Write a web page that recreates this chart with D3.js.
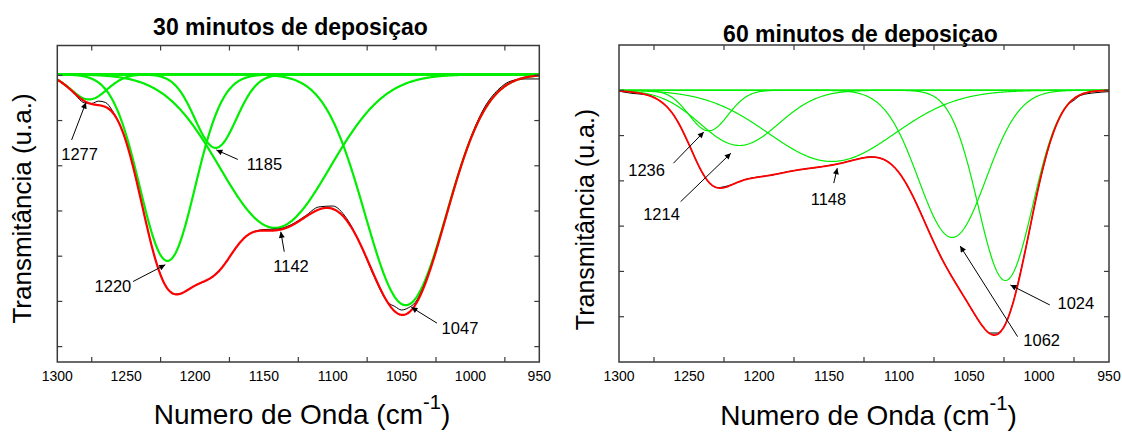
<!DOCTYPE html>
<html>
<head>
<meta charset="utf-8">
<script src="https://cdn.jsdelivr.net/npm/d3@7"></script>
<style>
  body { margin: 0; background: #fff; }
  svg { display: block; }
  text { font-family: "Liberation Sans", Arial, sans-serif; fill: #000; }
</style>
</head>
<body>
<svg id="chart" width="1122" height="432"></svg>
<script>
// ---- shared axis values ----
const xTickLabels = [1300, 1250, 1200, 1150, 1100, 1050, 1000, 950];
const xMinorTicks = [1275, 1225, 1175, 1125, 1075, 1025, 975];

// ---- 30 minutos: fitted Gaussian bands ----
const peaks30  = [1277, 1220, 1185, 1142, 1047];
const depth30  = [0.0553, 0.4123, 0.1624, 0.3393, 0.5103];
const fwhm30   = [30.6, 47.1, 35.3, 94.2, 69.5];
const baseline30 = 0.702;
const yTicks30 = [0.1, 0.2, 0.3, 0.4, 0.5, 0.6, 0.7];
// measured spectrum (wavenumber, transmittance)
const measured30 = [
  [1300,0.690],[1290,0.667],[1280,0.639],[1275,0.638],[1270,0.643],[1265,0.640],
  [1260,0.622],[1250,0.553],[1240,0.434],[1235,0.367],[1230,0.306],[1225,0.2585],
  [1220,0.228],[1215,0.216],[1210,0.218],[1200,0.235],[1190,0.249],[1180,0.277],
  [1170,0.320],[1160,0.350],[1150,0.359],[1140,0.360],[1130,0.370],[1120,0.389],
  [1110,0.409],[1100,0.411],[1090,0.384],[1080,0.327],[1070,0.255],[1060,0.198],
  [1055,0.189],[1050,0.181],[1045,0.186],[1040,0.198],[1030,0.266],[1020,0.365],
  [1010,0.470],[1000,0.560],[990,0.628],[980,0.668],[970,0.688],[960,0.692],[950,0.692]
];
// annotation arrows: peak index, arrow head, arrow tail, label centre (data units)
const notes30 = [
  { peak: 0, head: [1279.2, 0.640], tail: [1289.6, 0.557], text: [1283.8, 0.526] },
  { peak: 2, head: [1184.5, 0.535], tail: [1168.9, 0.514], text: [1149.6, 0.503] },
  { peak: 1, head: [1221.6, 0.281], tail: [1245.0, 0.244], text: [1259.6, 0.233] },
  { peak: 3, head: [1137.7, 0.354], tail: [1135.2, 0.310], text: [1130.3, 0.278] },
  { peak: 4, head: [1042.9, 0.187], tail: [1024.3, 0.152], text: [1007.6, 0.141] }
];

// ---- 60 minutos: fitted Gaussian bands ----
const peaks60  = [1236, 1214, 1148, 1062, 1024];
const depth60  = [0.0894, 0.1219, 0.1572, 0.3250, 0.4200];
const fwhm60   = [33.0, 65.9, 106.0, 56.5, 45.9];
const baseline60 = 0.600;
const yTicks60 = [0.1, 0.2, 0.3, 0.4, 0.5, 0.6];
const measured60 = [
  [1300,0.598],[1290,0.593],[1280,0.590],[1270,0.575],[1260,0.541],[1250,0.480],
  [1240,0.415],[1235,0.394],[1230,0.385],[1220,0.391],[1210,0.403],[1200,0.409],
  [1190,0.413],[1180,0.420],[1170,0.425],[1160,0.429],[1150,0.434],[1140,0.440],
  [1130,0.448],[1120,0.453],[1110,0.446],[1100,0.418],[1090,0.366],[1080,0.298],
  [1070,0.232],[1060,0.177],[1055,0.151],[1050,0.126],[1045,0.100],[1040,0.078],
  [1035,0.064],[1030,0.064],[1025,0.078],[1020,0.116],[1010,0.243],[1000,0.391],
  [990,0.504],[980,0.566],[975,0.578],[970,0.589],[960,0.5945],[950,0.597]
];
const notes60 = [
  { peak: 0, head: [1239.4, 0.508], tail: [1261.1, 0.439], text: [1280.3, 0.424] },
  { peak: 1, head: [1220.1, 0.461], tail: [1256.0, 0.354], text: [1269.6, 0.327] },
  { peak: 2, head: [1144.1, 0.428], tail: [1146.6, 0.395], text: [1150.4, 0.359] },
  { peak: 3, head: [1056.3, 0.256], tail: [1015.3, 0.056], text: [ 998.1, 0.049] },
  { peak: 4, head: [1020.4, 0.170], tail: [ 992.3, 0.126], text: [ 973.7, 0.130] }
];

const svg = d3.select("#chart");
const defs = svg.append("defs");
defs.append("marker")
  .attr("id", "arrow")
  .attr("viewBox", "0 0 10 10")
  .attr("refX", 10).attr("refY", 5)
  .attr("markerWidth", 8).attr("markerHeight", 6)
  .attr("markerUnits", "userSpaceOnUse")
  .attr("orient", "auto")
  .append("path").attr("d", "M0,0 L10,5 L0,10 Z").attr("fill", "#000");

function gaussianBand(center, depth, fwhm) {
  const s = fwhm / 2.3548;
  return w => depth * Math.exp(-((w - center) ** 2) / (2 * s * s));
}

function drawPanel(cfg) {
  const x = d3.scaleLinear().domain([1300, 950]).range([cfg.left, cfg.left + cfg.width]);
  const y = d3.scaleLinear().domain(cfg.yDomain).range([cfg.top + cfg.height, cfg.top]);
  const g = svg.append("g");

  defs.append("clipPath").attr("id", cfg.id + "-clip")
    .append("rect").attr("x", cfg.left).attr("y", cfg.top)
    .attr("width", cfg.width).attr("height", cfg.height);
  const plot = g.append("g").attr("clip-path", `url(#${cfg.id}-clip)`);

  const grid = d3.range(950, 1300.001, 0.5);
  const bands = cfg.peaks.map((c, i) => gaussianBand(c, cfg.depths[i], cfg.fwhms[i]));
  const line = d3.line().x(d => x(d[0])).y(d => y(d[1]));

  // individual bands
  bands.forEach(f => {
    plot.append("path")
      .attr("d", line(grid.map(w => [w, cfg.baseline - f(w)])))
      .attr("fill", "none").attr("stroke", "#00ee00")
      .attr("stroke-width", cfg.greenWidth);
  });
  // baseline of the fit
  plot.append("path")
    .attr("d", line([[1300, cfg.baseline], [950, cfg.baseline]]))
    .attr("fill", "none").attr("stroke", "#00ee00")
    .attr("stroke-width", cfg.greenWidth + 0.4);

  // measured spectrum
  plot.append("path")
    .attr("d", d3.line().curve(d3.curveMonotoneX).x(d => x(d[0])).y(d => y(d[1]))(cfg.measured))
    .attr("fill", "none").attr("stroke", "#000").attr("stroke-width", 1);

  // cumulative fit
  plot.append("path")
    .attr("d", line(grid.map(w => [w, cfg.baseline - d3.sum(bands, f => f(w))])))
    .attr("fill", "none").attr("stroke", "#ff0000")
    .attr("stroke-width", cfg.redWidth);

  // frame
  g.append("rect")
    .attr("x", cfg.left).attr("y", cfg.top)
    .attr("width", cfg.width).attr("height", cfg.height)
    .attr("fill", "none").attr("stroke", "#3a3a3a").attr("stroke-width", 1.5);

  // inward ticks
  const tl = 5;
  xMinorTicks.forEach(t => {
    g.append("line").attr("x1", x(t)).attr("x2", x(t))
      .attr("y1", cfg.top + cfg.height).attr("y2", cfg.top + cfg.height - tl)
      .attr("stroke", "#3a3a3a").attr("stroke-width", 1.2);
    g.append("line").attr("x1", x(t)).attr("x2", x(t))
      .attr("y1", cfg.top).attr("y2", cfg.top + tl)
      .attr("stroke", "#3a3a3a").attr("stroke-width", 1.2);
  });
  cfg.yTicks.forEach(t => {
    g.append("line").attr("x1", cfg.left).attr("x2", cfg.left + tl)
      .attr("y1", y(t)).attr("y2", y(t))
      .attr("stroke", "#3a3a3a").attr("stroke-width", 1.2);
    g.append("line").attr("x1", cfg.left + cfg.width).attr("x2", cfg.left + cfg.width - tl)
      .attr("y1", y(t)).attr("y2", y(t))
      .attr("stroke", "#3a3a3a").attr("stroke-width", 1.2);
  });

  // tick labels
  g.selectAll("text.tick").data(xTickLabels).enter().append("text")
    .attr("class", "tick")
    .attr("x", d => x(d)).attr("y", cfg.top + cfg.height + 18.5)
    .attr("text-anchor", "middle").attr("font-size", 14)
    .text(d => d);

  // titles
  g.append("text").attr("x", cfg.titleX).attr("y", cfg.titleY)
    .attr("text-anchor", "middle").attr("font-size", cfg.titleSize).attr("font-weight", "bold")
    .text(cfg.title);

  const xt = g.append("text").attr("x", cfg.xTitleX).attr("y", cfg.xTitleY)
    .attr("text-anchor", "middle").attr("font-size", cfg.xTitleSize);
  xt.append("tspan").text("Numero de Onda (cm");
  xt.append("tspan").attr("dy", -cfg.xTitleSize * 0.55).attr("font-size", cfg.xTitleSize * 0.72).text("-1");
  xt.append("tspan").attr("dy", cfg.xTitleSize * 0.55).text(")");

  g.append("text")
    .attr("transform", `translate(${cfg.yTitleX},${cfg.yTitleY}) rotate(-90)`)
    .attr("text-anchor", "middle").attr("font-size", cfg.yTitleSize)
    .text("Transmitância (u.a.)");

  // annotations
  cfg.notes.forEach(n => {
    g.append("line")
      .attr("x1", x(n.tail[0])).attr("y1", y(n.tail[1]))
      .attr("x2", x(n.head[0])).attr("y2", y(n.head[1]))
      .attr("stroke", "#000").attr("stroke-width", 1)
      .attr("marker-end", "url(#arrow)");
    g.append("text")
      .attr("x", x(n.text[0])).attr("y", y(n.text[1]) + 6)
      .attr("text-anchor", "middle").attr("font-size", 16.5)
      .text(String(cfg.peaks[n.peak]));
  });
}

drawPanel({
  id: "p30", left: 57.3, top: 45.5, width: 482, height: 316.5,
  yDomain: [0.066, 0.766], yTicks: yTicks30,
  peaks: peaks30, depths: depth30, fwhms: fwhm30, baseline: baseline30,
  measured: measured30, notes: notes30,
  greenWidth: 2.2, redWidth: 2.2,
  title: "30 minutos de deposiçao", titleX: 290.5, titleY: 35, titleSize: 23,
  xTitleX: 302, xTitleY: 424, xTitleSize: 28,
  yTitleX: 31, yTitleY: 208.5, yTitleSize: 26
});

drawPanel({
  id: "p60", left: 619, top: 45, width: 490, height: 317,
  yDomain: [0, 0.7], yTicks: yTicks60,
  peaks: peaks60, depths: depth60, fwhms: fwhm60, baseline: baseline60,
  measured: measured60, notes: notes60,
  greenWidth: 1.2, redWidth: 1.8,
  title: "60 minutos de deposiçao", titleX: 860.5, titleY: 41.5, titleSize: 23,
  xTitleX: 868.5, xTitleY: 425, xTitleSize: 28,
  yTitleX: 594, yTitleY: 219.5, yTitleSize: 25
});
</script>
</body>
</html>
